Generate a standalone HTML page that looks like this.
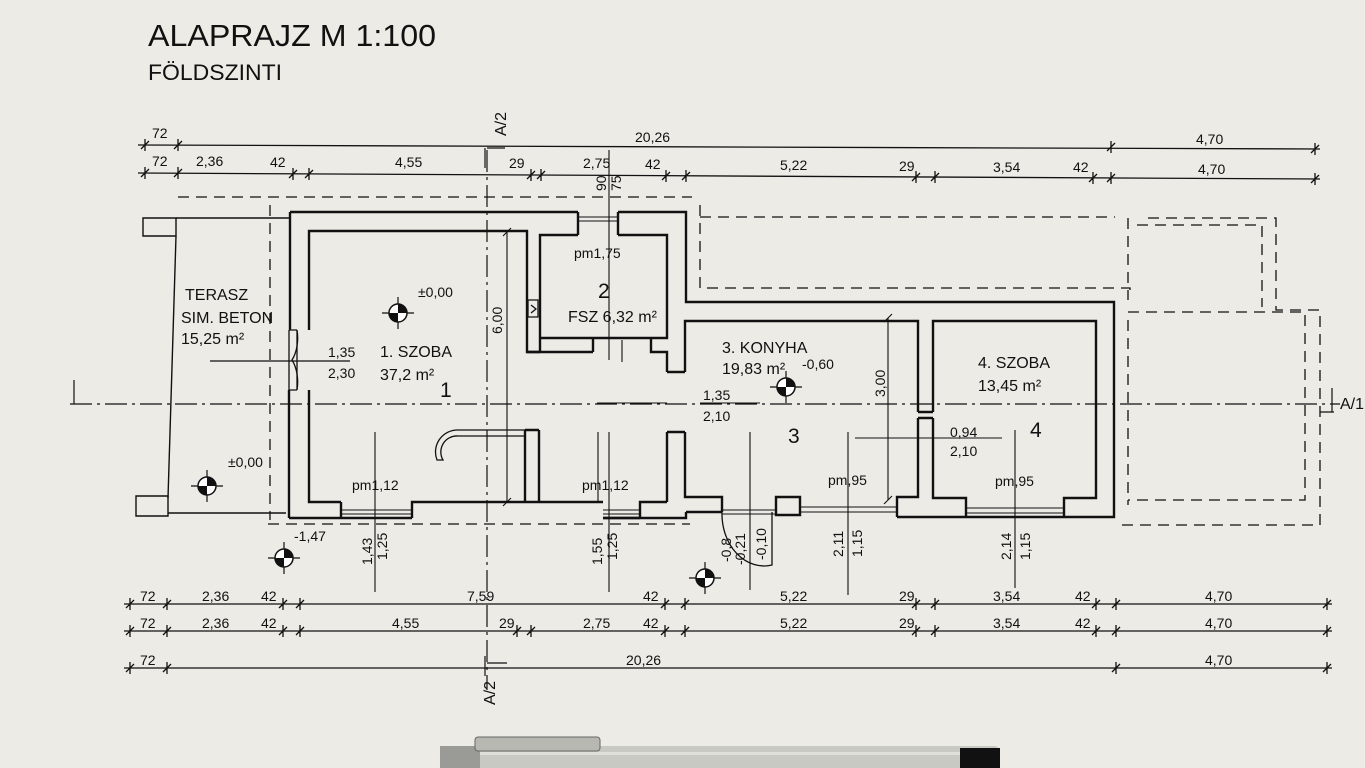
<!DOCTYPE html>
<html><head><meta charset="utf-8"><style>
html,body{margin:0;padding:0;background:#ecebe6;}
svg{display:block;}
text{font-family:"Liberation Sans Narrow","Liberation Sans",sans-serif;fill:#111;}
</style></head><body>
<svg width="1365" height="768" viewBox="0 0 1365 768" xmlns="http://www.w3.org/2000/svg">
<defs>
<symbol id="lv" viewBox="-14 -14 28 28" overflow="visible">
<line x1="-16" y1="0" x2="16" y2="0" stroke="#111" stroke-width="1.2"/>
<line x1="0" y1="-16" x2="0" y2="16" stroke="#111" stroke-width="1.2"/>
<circle r="9" fill="#fff" stroke="#111" stroke-width="1.5"/>
<path d="M0 0 L9 0 A9 9 0 0 0 0 -9 Z" fill="#111"/>
<path d="M0 0 L-9 0 A9 9 0 0 0 0 9 Z" fill="#111"/>
</symbol>
</defs>
<rect width="1365" height="768" fill="#ecebe6"/>

<!-- Titles -->
<text x="148" y="46" font-size="31" font-family="Liberation Sans" textLength="288" lengthAdjust="spacingAndGlyphs">ALAPRAJZ M 1:100</text>
<text x="148" y="80" font-size="22" font-family="Liberation Sans" textLength="134" lengthAdjust="spacingAndGlyphs">FÖLDSZINTI</text>

<g stroke="#111" stroke-width="1.3" fill="none">
<line x1="138" y1="145" x2="1320" y2="149"/>
<line x1="138" y1="173" x2="1320" y2="179"/>
<line x1="124" y1="604" x2="1332" y2="604"/>
<line x1="124" y1="631" x2="1332" y2="631"/>
<line x1="124" y1="668" x2="1332" y2="668"/>
</g>
<g stroke="#111" stroke-width="1.3">
<path d="M145 139v12M141 149l8-8 M178 139v12M174 149l8-8 M1111 141v12M1107 151l8-8 M1315 143v12M1311 153l8-8"/>
<path d="M145 167v12M141 177l8-8 M178 167v12M174 177l8-8 M293 168v12M289 178l8-8 M309 168v12M305 178l8-8 M531 169v12M527 179l8-8 M541 169v12M537 179l8-8 M666 170v12M662 180l8-8 M686 170v12M682 180l8-8 M916 171v12M912 181l8-8 M935 171v12M931 181l8-8 M1093 172v12M1089 182l8-8 M1111 172v12M1107 182l8-8 M1315 173v12M1311 183l8-8"/>
<path d="M130 598v12M126 608l8-8 M167 598v12M163 608l8-8 M283 598v12M279 608l8-8 M300 598v12M296 608l8-8 M665 598v12M661 608l8-8 M685 598v12M681 608l8-8 M916 598v12M912 608l8-8 M935 598v12M931 608l8-8 M1096 598v12M1092 608l8-8 M1116 598v12M1112 608l8-8 M1327 598v12M1323 608l8-8"/>
<path d="M130 625v12M126 635l8-8 M167 625v12M163 635l8-8 M283 625v12M279 635l8-8 M300 625v12M296 635l8-8 M517 625v12M513 635l8-8 M531 625v12M527 635l8-8 M665 625v12M661 635l8-8 M685 625v12M681 635l8-8 M916 625v12M912 635l8-8 M935 625v12M931 635l8-8 M1096 625v12M1092 635l8-8 M1116 625v12M1112 635l8-8 M1327 625v12M1323 635l8-8"/>
<path d="M130 662v12M126 672l8-8 M167 662v12M163 672l8-8 M1116 662v12M1112 672l8-8 M1327 662v12M1323 672l8-8"/>
</g>
<g font-size="14">
<text x="152" y="138">72</text><text x="635" y="142">20,26</text><text x="1196" y="144">4,70</text>
<text x="152" y="166">72</text><text x="196" y="166">2,36</text><text x="270" y="167">42</text><text x="395" y="167">4,55</text>
<text x="509" y="168">29</text><text x="583" y="168">2,75</text><text x="645" y="169">42</text><text x="780" y="170">5,22</text>
<text x="899" y="171">29</text><text x="993" y="172">3,54</text><text x="1073" y="172">42</text><text x="1198" y="174">4,70</text>
<text x="140" y="601">72</text><text x="202" y="601">2,36</text><text x="261" y="601">42</text><text x="467" y="601">7,59</text><text x="643" y="601">42</text><text x="780" y="601">5,22</text><text x="899" y="601">29</text><text x="993" y="601">3,54</text><text x="1075" y="601">42</text><text x="1205" y="601">4,70</text>
<text x="140" y="628">72</text><text x="202" y="628">2,36</text><text x="261" y="628">42</text><text x="392" y="628">4,55</text><text x="499" y="628">29</text><text x="583" y="628">2,75</text><text x="643" y="628">42</text><text x="780" y="628">5,22</text><text x="899" y="628">29</text><text x="993" y="628">3,54</text><text x="1075" y="628">42</text><text x="1205" y="628">4,70</text>
<text x="140" y="665">72</text><text x="626" y="665">20,26</text><text x="1205" y="665">4,70</text>
</g>

<g stroke="#111" stroke-width="1.2" fill="none">
<path d="M487 150 V690" stroke-dasharray="22 5 3 5"/>
<path d="M70 404 H1340" stroke-dasharray="22 5 3 5"/>
<path d="M74 380 V404 M1332 388 V412 M1320 412 H1334"/>
<path d="M485 148 v20 M487 148 h18 M485 656 v20 M487 663 h20"/>
</g>
<text transform="translate(506,136) rotate(-90)" font-size="16">A/2</text>
<text transform="translate(495,705) rotate(-90)" font-size="16">A/2</text>
<text x="1340" y="409" font-size="16">A/1</text>

<g stroke="#111" stroke-width="1.3" fill="none" stroke-dasharray="11 7">
<path d="M178 197 H692"/>
<path d="M270 205 V520"/>
<path d="M700 205 V288 H1130 V296"/>
<path d="M700 217 H1115"/>
<path d="M1128 218 V300 M1137 225 H1262 V307 M1148 218 H1276 V310 H1320 V525 H1120"/>
<path d="M1128 312 H1305 V500 H1128"/>
<path d="M1128 320 V505"/>
<path d="M268 524 H690"/>
</g>

<g stroke="#111" stroke-width="1.4" fill="none">
<path d="M143 218 H176 V236 H143 Z"/>
<path d="M176 218 H290"/>
<path d="M176 236 L168 498"/>
<path d="M136 496 H168 V516 H136 Z"/>
<path d="M168 513 H286"/>
</g>

<!-- walls -->
<g stroke="#111" stroke-width="2.4" fill="none" stroke-linejoin="miter">
<path d="M290 212 H578 M618 212 H686 V302 H1114 V517 H897 M686 512 H722 M640 518 H603 M412 518 H341 M289 518 V390 M290 212 V330"/>
<path d="M686 512 V518 H640"/>
<path d="M412 518 V502 H603 M603 518 H640 M640 518 V502 H667"/>
<path d="M309 330 V231 H527 V352 H540 M309 390 V502 H341 M341 502 V518 M289 518 H341"/>
<path d="M527 352 H593 M593 352 V338 M651 338 V352 H667 V372 M667 432 V502"/>
<path d="M540 352 V235 H578 M618 235 H667 V338 H540"/>
<path d="M578 212 V235 M618 212 V235"/>
<!-- kitchen -->
<path d="M685 372 V321 H918 V412 M685 432 V497 H722 V512 M685 372 H667 M685 432 H667"/>
<path d="M776 497 H800 V515 H776 Z"/>
<path d="M918 418 V497 H897 V517"/>
<!-- room 4 -->
<path d="M933 412 V321 H1096 V498 H1064 V517 M933 418 V498 H966 V517"/>
<path d="M918 412 H933 M918 418 H933"/>
<path d="M525 430 V502 M539 430 V502 M525 430 H539"/>
</g>
<g stroke="#111" stroke-width="1" fill="none">
<path d="M341 510 H412 M341 514 H412 M603 510 H640 M603 514 H640 M722 510 H776 M722 514 H776 M800 507 H897 M800 512 H897 M966 508 H1064 M966 513 H1064 M578 217 H618 M578 221 H618"/>
</g>
<g stroke="#111" stroke-width="1.3" fill="none">
<path d="M289 330 V390 M297 330 V390 M289 330 H297 M289 390 H297"/>
<path d="M297 330 A18 30 0 0 1 292 360 A18 30 0 0 1 297 390"/>
<path d="M210 361 H350"/>
<path d="M458 430 H525 M458 436 H525 M458 430 A22 22 0 0 0 437 460 H443 A16 16 0 0 1 458 436"/>
<path d="M722 512 A42 52 0 0 0 772 565 V512"/>
<path d="M528 300 h10 v17 h-10 z M531 305 l5 4 l-5 4"/>
</g>

<g stroke="#111" stroke-width="1.1">
<path d="M507 232 V502 M503 236 l8-8 M503 506 l8-8"/>
<path d="M888 318 V500 M884 322 l8-8 M884 504 l8-8"/>
<path d="M609 150 V360 M622 340 V362"/>
<path d="M597 403 H667 M598 432 V502 M375 432 V592 M609 432 V592"/>
<path d="M700 403 H760 M750 432 V590 M848 432 V595 M855 438 H1002 M1015 430 V588"/>
</g>

<use href="#lv" x="384" y="299" width="28" height="28"/>
<use href="#lv" x="193" y="472" width="28" height="28"/>
<use href="#lv" x="772" y="373" width="28" height="28"/>
<use href="#lv" x="270" y="544" width="28" height="28"/>
<use href="#lv" x="691" y="564" width="28" height="28"/>

<g font-size="16">
<text x="185" y="300">TERASZ</text>
<text x="181" y="323">SIM. BETON</text>
<text x="181" y="344">15,25 m²</text>
<text x="380" y="357">1. SZOBA</text>
<text x="380" y="380">37,2 m²</text>
<text x="568" y="322">FSZ 6,32 m²</text>
<text x="722" y="353">3. KONYHA</text>
<text x="722" y="374">19,83 m²</text>
<text x="978" y="368">4. SZOBA</text>
<text x="978" y="391">13,45 m²</text>
</g>
<g font-size="21">
<text x="440" y="397">1</text><text x="598" y="298">2</text><text x="788" y="443">3</text><text x="1030" y="437">4</text>
</g>
<g font-size="14">
<text x="418" y="297">±0,00</text>
<text x="228" y="467">±0,00</text>
<text x="802" y="369">-0,60</text>
<text x="574" y="258">pm1,75</text>
<text x="352" y="490">pm1,12</text>
<text x="582" y="490">pm1,12</text>
<text x="828" y="485">pm,95</text>
<text x="995" y="486">pm,95</text>
<text x="328" y="357">1,35</text><text x="328" y="378">2,30</text>
<text x="703" y="400">1,35</text><text x="703" y="421">2,10</text>
<text x="950" y="437">0,94</text><text x="950" y="456">2,10</text>
<text x="294" y="541">-1,47</text>
</g>
<g font-size="14">
<text transform="translate(502,334) rotate(-90)">6,00</text>
<text transform="translate(885,397) rotate(-90)">3,00</text>
<text transform="translate(606,191) rotate(-90)">90</text>
<text transform="translate(621,191) rotate(-90)">75</text>
<text transform="translate(372,565) rotate(-90)">1,43</text>
<text transform="translate(387,560) rotate(-90)">1,25</text>
<text transform="translate(602,565) rotate(-90)">1,55</text>
<text transform="translate(617,560) rotate(-90)">1,25</text>
<text transform="translate(745,565) rotate(-90)">-0,21</text>
<text transform="translate(766,560) rotate(-90)">-0,10</text>
<text transform="translate(731,562) rotate(-90)">-0,8</text>
<text transform="translate(843,557) rotate(-90)">2,11</text>
<text transform="translate(862,557) rotate(-90)">1,15</text>
<text transform="translate(1011,560) rotate(-90)">2,14</text>
<text transform="translate(1030,560) rotate(-90)">1,15</text>
</g>

<g>
<rect x="440" y="746" width="560" height="30" rx="6" fill="#c9c9c4"/>
<rect x="440" y="746" width="40" height="30" fill="#9a9a96"/>
<rect x="475" y="737" width="125" height="14" rx="3" fill="#b8b8b3" stroke="#666" stroke-width="1"/>
<rect x="960" y="748" width="40" height="22" fill="#111"/>
<rect x="480" y="752" width="480" height="3" fill="#e0e0db"/>
</g>
</svg>
</body></html>
